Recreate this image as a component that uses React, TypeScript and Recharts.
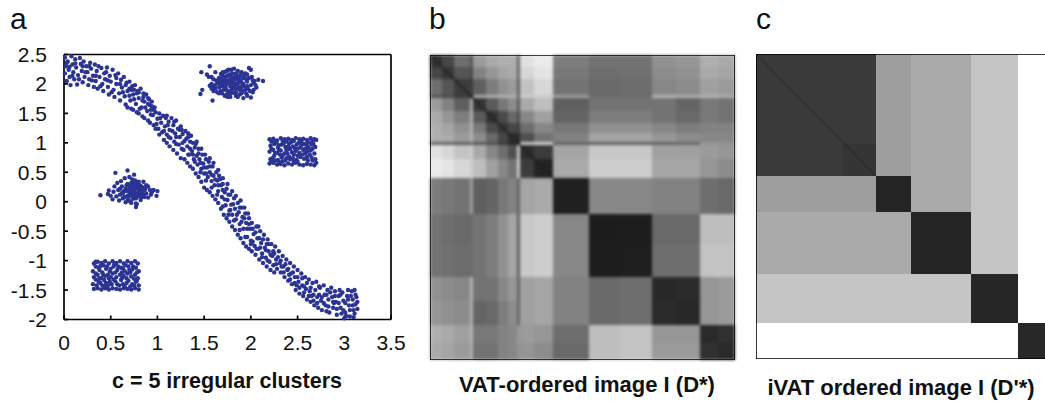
import React from "react";
import { ScatterChart, Scatter, XAxis, YAxis, ReferenceArea, ReferenceLine } from "recharts";

type P = [number, number];
const INK = "#2b3494";
const FONT = "'Liberation Sans', Arial, sans-serif";

const xTicks = [0, 0.5, 1, 1.5, 2, 2.5, 3, 3.5];
const yTicks = [-2, -1.5, -1, -0.5, 0, 0.5, 1, 1.5, 2, 2.5];

const bandPoints: P[] = [
[0.01,2.45],[0.02,2.3],[0.01,2.18],[0.03,2.05],[0.04,2.38],[0.05,2.24],[0.06,2.12],[0.07,1.98],[0.08,2.47],[0.09,2.33],[0.1,2.2],[0.11,2.08],[0.12,2.42],[0.13,2.28],[0.14,1.99],[0.15,2.15],[0.17,2.44],[0.18,2.34],[0.19,2.22],[0.2,2.03],[0.21,2.38],[0.22,2.12],[0.24,2.3],[0.25,2.2],[0.26,1.98],[0.27,2.08],
[0.28,2.36],[0.29,2.26],[0.31,2.14],[0.32,1.95],[0.33,2.33],[0.34,2.05],[0.35,2.22],[0.36,1.92],[0.37,2.3],[0.38,2.12],[0.4,2.27],[0.41,2.0],[0.42,1.88],[0.43,2.18],[0.44,2.08],[0.46,2.28],[0.47,1.95],[0.48,1.82],[0.49,2.14],[0.5,2.04],[0.52,2.24],[0.53,1.9],[0.54,1.78],[0.55,2.15],[0.56,2.0],[0.58,2.18],[0.59,1.84],[0.6,1.72],[0.61,2.07],[0.62,1.94],[0.64,2.12],[0.65,1.79],[0.66,1.65],[0.67,2.02],[0.68,1.88],[0.7,2.04],[0.71,1.72],[0.72,1.58],[0.73,1.96],[0.74,1.82],[0.76,1.98],[0.77,1.66],[0.78,1.52],[0.79,1.88],[0.8,1.76],[0.82,1.92],[0.83,1.6],[0.84,1.45],[0.85,1.84],[0.86,1.7],[0.88,1.82],[0.89,1.54],[0.9,1.38],[0.91,1.74],[0.92,1.64],[0.94,1.7],[0.95,1.47],[0.96,1.3],[0.97,1.6],[0.98,1.52],
[1.0,1.41],[1.01,1.24],[1.02,1.5],[1.04,1.34],[1.05,1.18],[1.06,1.46],[1.08,1.28],[1.09,1.42],[1.1,1.14],[1.12,1.36],[1.13,1.22],[1.14,1.08],[1.15,1.42],[1.17,1.3],[1.18,1.02],[1.19,1.16],[1.2,1.38],[1.22,1.24],[1.23,0.97],[1.24,1.1],[1.25,1.28],[1.27,1.15],[1.28,0.88],[1.29,1.03],[1.3,1.2],[1.32,0.94],[1.33,1.1],[1.34,0.8],[1.35,1.02],[1.37,0.86],[1.38,1.0],[1.39,0.72],[1.4,0.92],[1.42,0.78],[1.43,0.63],[1.44,0.9],[1.45,0.72],[1.47,0.56],[1.48,0.8],[1.49,0.65],[1.5,0.48],[1.52,0.72],[1.53,0.58],[1.54,0.42],[1.55,0.68],[1.56,0.5],[1.58,0.35],[1.59,0.6],[1.6,0.44],[1.61,0.28],[1.63,0.5],[1.64,0.36],[1.65,0.18],[1.66,0.44],[1.68,0.28],[1.69,0.08],[1.7,0.3],[1.72,0.16],[1.73,-0.06],[1.74,0.22],[1.75,0.03],[1.77,-0.15],[1.78,0.12],[1.79,-0.05],[1.8,-0.22],[1.82,0.06],[1.83,-0.12],[1.84,-0.3],[1.86,-0.02],[1.87,-0.18],[1.88,-0.38],[1.9,-0.1],[1.91,-0.26],[1.92,-0.46],[1.94,-0.2],[1.95,-0.36],[1.96,-0.6],[1.98,-0.28],[1.99,-0.46],[2.0,-0.66],[2.01,-0.36],[2.03,-0.55],[2.04,-0.75],[2.06,-0.42],[2.07,-0.62],[2.08,-0.8],[2.1,-0.5],[2.11,-0.7],[2.12,-0.88],[2.14,-0.56],[2.15,-0.78],[2.16,-0.95],[2.18,-0.64],[2.19,-0.84],[2.2,-1.02],[2.22,-0.72],[2.23,-0.92],[2.24,-1.08],[2.26,-0.76],[2.27,-0.98],[2.28,-1.14],[2.3,-0.84],[2.31,-1.04],[2.32,-1.2],[2.34,-0.92],[2.35,-1.1],[2.36,-1.28],[2.38,-0.98],[2.39,-1.16],[2.4,-1.34],[2.42,-1.04],[2.43,-1.22],[2.44,-1.4],[2.46,-1.1],[2.47,-1.28],[2.48,-1.5],[2.5,-1.16],[2.51,-1.36],[2.52,-1.56],[2.54,-1.22],[2.55,-1.42],[2.56,-1.6],[2.58,-1.28],[2.59,-1.48],[2.6,-1.66],[2.62,-1.32],[2.63,-1.52],[2.64,-1.7],[2.66,-1.38],[2.67,-1.58],[2.68,-1.76],[2.7,-1.36],[2.71,-1.62],[2.72,-1.8],[2.74,-1.46],[2.75,-1.68],[2.76,-1.84],[2.78,-1.42],[2.79,-1.58],[2.8,-1.76],[2.82,-1.5],[2.83,-1.66],[2.84,-1.88],[2.86,-1.46],[2.87,-1.62],[2.88,-1.8],[2.9,-1.52],[2.91,-1.7],[2.92,-1.92],[2.94,-1.6],[2.95,-1.5],[2.96,-1.8],[2.98,-1.54],[2.99,-1.68],[3.0,-1.98],[3.01,-1.88],[3.03,-1.6],[3.04,-1.5],[3.05,-1.76],[3.06,-1.95],[3.08,-1.52],[3.09,-1.66],[3.1,-1.84],[3.11,-1.5],[3.12,-1.74],[3.13,-1.62],[3.14,-1.82],[3.1,-1.96],[2.97,-1.9],[2.89,-1.72],[2.81,-1.86],[2.73,-1.58],[2.65,-1.6],[2.57,-1.44],[2.49,-1.42],[2.41,-1.24],[2.33,-1.1],[2.25,-0.88],[2.17,-0.72],[2.09,-0.62],[2.02,-0.46]
];

const bandFill: P[] = [
[0.03,2.36],[0.06,2.29],[0.09,2.14],[0.12,2.35],[0.16,2.08],[0.2,2.3],[0.23,2.2],[0.27,2.3],[0.3,2.06],[0.34,2.14],[0.39,1.96],[0.45,2.2],[0.47,2.06],[0.51,1.86],[0.56,2.1],[0.6,2.0],[0.63,1.86],[0.66,1.98],[0.7,1.8],[0.72,1.9],[0.75,1.74],[0.78,1.84],[0.81,1.58],[0.84,1.72],[0.87,1.6],[0.9,1.66],[0.93,1.48],[0.96,1.56],[0.99,1.32],[1.03,1.42],[1.07,1.2],[1.11,1.3],[1.16,1.2],[1.2,1.1],[1.24,1.22],[1.27,1.0],[1.31,1.07],[1.35,0.9],[1.38,0.8],[1.41,0.98],[1.44,0.82],[1.46,0.66],[1.5,0.58],[1.52,0.48],[1.56,0.6],[1.58,0.46],[1.62,0.38],[1.65,0.28],[1.67,0.38],[1.7,0.2],[1.72,0.04],[1.76,0.12],[1.78,-0.14],[1.81,-0.04],[1.85,-0.22],[1.88,-0.1],[1.9,-0.34],[1.93,-0.28],[1.96,-0.46],[1.98,-0.38],[2.02,-0.68],[2.05,-0.52],[2.08,-0.42],[2.1,-0.78],[2.13,-0.64],[2.16,-0.82],[2.19,-0.72],[2.21,-0.9],[2.24,-0.84],[2.27,-1.06],[2.29,-0.94],[2.32,-1.0],[2.35,-1.2],[2.37,-1.06],[2.4,-1.14],[2.42,-1.32],[2.45,-1.2],[2.47,-1.38],[2.5,-1.28],[2.52,-1.46],[2.55,-1.3],[2.57,-1.54],[2.6,-1.38],[2.62,-1.6],[2.64,-1.46],[2.67,-1.68],[2.69,-1.5],[2.71,-1.72],[2.73,-1.44],[2.76,-1.62],[2.78,-1.72],[2.81,-1.58],[2.83,-1.78],[2.85,-1.54],[2.88,-1.7],[2.9,-1.6],[2.92,-1.82],[2.94,-1.72],[2.96,-1.58],[2.99,-1.84],[3.01,-1.72],[3.02,-1.94],[3.04,-1.66],[3.06,-1.84],[3.07,-1.6],[3.09,-1.76],[3.11,-1.9],[3.12,-1.58],[3.14,-1.7]
];

const bandLowerEdge: P[] = [
[0.98,1.24],[1.02,1.14],[1.07,1.05],[1.1,1.0],[1.13,0.94],[1.17,0.88],[1.21,0.82],[1.25,0.74],[1.29,0.72],[1.32,0.66],[1.35,0.6],[1.38,0.56],[1.41,0.48],[1.44,0.42],[1.47,0.34],[1.5,0.24],[1.53,0.2],[1.56,0.16],[1.59,0.1],[1.62,0.04],[1.65,-0.02],[1.68,-0.12],[1.71,-0.22],[1.74,-0.28],[1.77,-0.34],[1.8,-0.42],[1.83,-0.48],[1.86,-0.56],[1.89,-0.62],[1.92,-0.7],[1.95,-0.76],[1.98,-0.8],[2.01,-0.84],[2.05,-0.9],[2.09,-0.98],[2.13,-1.04],[2.17,-1.1],[2.21,-1.16],[2.25,-1.2],
[1.12,1.1],[1.2,0.98],[1.26,0.9],[1.33,0.8],[1.4,0.68],[1.46,0.5],[1.52,0.36],[1.58,0.24],[1.64,0.12],[1.7,-0.08],[1.76,-0.22],[1.82,-0.32],[1.88,-0.48],[1.94,-0.6],[2.0,-0.72],[2.06,-0.8],[2.12,-0.94],[2.18,-1.0],
[1.1,1.46],[1.18,1.36],[1.26,1.22],[1.33,1.16],[1.36,1.12],[1.42,1.02],[1.47,0.9],[1.51,0.8],[1.56,0.74],[1.6,0.66],[1.65,0.54],[1.7,0.4],[1.75,0.3],[1.8,0.18],[1.84,0.1],[1.89,0.02],[1.93,-0.1],[1.97,-0.2],
[0.7,1.92],[0.75,1.9],[0.8,1.86],[0.85,1.78],[0.9,1.76],[0.94,1.62],[0.93,1.56],[0.68,1.6],[0.74,1.56],[0.8,1.5],[0.86,1.42],[0.92,1.34]
];

const topBlobPoints: P[] = [
[1.46,1.83],[1.48,1.9],[1.47,2.2],[1.56,2.3],[1.59,1.72],[1.53,2.16],[1.55,2.12],[1.58,2.12],[1.6,2.08],[1.62,2.2],[1.98,2.27],[2.0,2.24],[2.13,2.05],[2.08,2.07],[2.04,2.05],[2.0,1.77],[1.92,1.76],[1.84,1.8],[1.78,1.78],[1.72,1.8],[1.66,1.84],[1.56,1.97],[1.58,1.92],[1.6,1.88],[1.62,1.98],[1.64,2.02],[1.66,1.94],[1.66,2.1],[1.68,1.88],[1.68,2.02],[1.7,2.14],[1.7,1.96],[1.72,2.2],[1.72,2.06],[1.74,1.9],[1.74,2.0],[1.75,2.14],[1.76,2.24],[1.78,1.84],[1.78,1.96],[1.78,2.08],[1.8,2.18],[1.8,2.02],[1.82,1.92],[1.82,2.26],[1.83,2.12],[1.84,1.86],[1.84,2.0],[1.86,2.22],[1.86,2.08],[1.87,1.94],[1.88,1.82],[1.89,2.16],[1.9,2.02],[1.91,1.88],[1.92,2.1],[1.93,1.96],[1.94,2.18],[1.95,1.84],[1.96,2.04],[1.97,1.92],[1.98,2.1],[2.0,1.98],[2.02,2.06],[2.03,1.9],[2.05,1.98],[1.9,1.95],[1.74,1.82],[1.68,2.17],[1.81,2.1],
[1.62,1.92],[1.64,1.86],[1.65,2.04],[1.67,1.98],[1.69,2.08],[1.69,1.84],[1.71,1.9],[1.71,2.02],[1.73,2.12],[1.73,1.95],[1.75,2.06],[1.76,1.87],[1.77,2.16],[1.77,2.02],[1.79,1.9],[1.79,2.12],[1.8,1.96],[1.81,1.85],[1.82,2.06],[1.83,1.98],[1.85,1.92],[1.85,2.14],[1.86,2.0],[1.88,2.12],[1.88,1.9],[1.89,2.06],[1.9,1.84],[1.92,2.0],[1.93,2.14],[1.94,1.9],[1.95,2.08],[1.96,1.96],[1.99,1.88],[2.01,2.12],[1.87,2.04],[1.84,2.18],
[1.6,1.96],[1.58,2.0],[1.63,2.06],[1.7,2.2],[1.74,2.22],[1.79,2.24],[1.9,2.2],[1.96,2.16],[2.03,2.02],[2.06,1.94],[2.02,1.86],[1.96,1.8],[1.86,1.78],[1.75,1.78]
];

const rightRectPoints: P[] = [
[2.2,1.06],[2.21,0.95],[2.2,0.85],[2.21,0.72],[2.2,0.65],[2.24,1.07],[2.25,0.98],[2.24,0.88],[2.25,0.78],[2.24,0.66],[2.28,1.04],[2.29,0.92],[2.28,0.83],[2.29,0.71],[2.28,0.63],[2.32,1.08],[2.33,0.97],[2.32,0.87],[2.33,0.75],[2.32,0.64],[2.36,1.06],[2.37,0.93],[2.36,0.82],[2.37,0.7],[2.36,0.62],[2.4,1.07],[2.41,0.99],[2.4,0.89],[2.41,0.77],[2.4,0.65],[2.44,1.05],[2.45,0.94],[2.44,0.84],[2.45,0.74],[2.44,0.63],[2.48,1.08],[2.49,0.97],[2.48,0.86],[2.49,0.71],[2.48,0.66],[2.52,1.06],[2.53,0.92],[2.52,0.83],[2.53,0.76],[2.52,0.63],[2.56,1.07],[2.57,0.98],[2.56,0.88],[2.57,0.73],[2.56,0.62],[2.6,1.05],[2.61,0.94],[2.6,0.85],[2.61,0.7],[2.6,0.64],[2.64,1.08],[2.65,0.97],[2.64,0.87],[2.65,0.75],[2.64,0.63],[2.68,1.06],[2.69,0.93],[2.68,0.82],[2.69,0.72],[2.68,0.62],[2.7,1.05],[2.7,0.66],[2.22,0.9],[2.27,1.0],[2.31,0.8],[2.35,0.99],[2.39,0.82],[2.43,1.01],[2.47,0.91],[2.51,1.0],[2.55,0.8],[2.59,0.98],[2.63,0.8],[2.67,0.98],
[2.23,0.74],[2.26,0.83],[2.3,0.96],[2.34,0.79],[2.38,1.02],[2.42,0.72],[2.46,1.03],[2.5,0.78],[2.54,0.96],[2.58,0.82],[2.62,1.01],[2.66,0.9],[2.3,0.68],[2.38,0.74],[2.46,0.68],[2.6,0.76],
[2.22,1.02],[2.26,1.03],[2.34,1.03],[2.42,0.9],[2.46,0.8],[2.5,0.9],[2.54,1.02],[2.58,0.9],[2.62,0.9],[2.66,1.03],[2.22,0.69],[2.26,0.7],[2.34,0.69],[2.4,0.94],[2.5,0.68],[2.66,0.7],[2.38,0.88],[2.3,0.88]
];

const leftBlobPoints: P[] = [
[0.39,0.11],[0.55,0.49],[0.68,0.53],[1.0,0.18],[0.99,0.1],[0.92,0.2],[0.77,-0.09],[0.47,0.13],[0.48,0.19],[0.5,0.1],[0.52,0.04],[0.53,0.17],[0.54,0.26],[0.56,0.09],[0.57,0.32],[0.58,0.2],[0.59,0.02],[0.6,0.12],[0.61,0.35],[0.62,0.26],[0.63,0.06],[0.64,0.18],[0.65,0.4],[0.66,-0.01],[0.67,0.28],[0.68,0.1],[0.69,0.2],[0.7,0.42],[0.71,0.0],[0.72,0.32],[0.72,0.14],[0.74,0.24],[0.74,0.05],[0.75,0.46],[0.76,0.36],[0.76,0.16],[0.77,-0.03],[0.78,0.28],[0.78,0.08],[0.8,0.2],[0.8,0.34],[0.82,0.12],[0.82,0.03],[0.83,0.26],[0.84,0.17],[0.85,0.34],[0.86,0.08],[0.87,0.22],[0.88,0.28],[0.88,0.14],[0.9,0.07],[0.9,0.26],[0.93,0.12],[0.94,0.16],[0.96,0.2],[0.82,0.22],[0.7,0.16],[0.74,0.18],[0.66,0.22],[0.62,0.15],
[0.6,0.22],[0.63,0.14],[0.65,0.08],[0.67,0.18],[0.68,0.3],[0.69,0.04],[0.7,0.26],[0.71,0.1],[0.72,0.2],[0.73,0.38],[0.73,0.28],[0.75,0.1],[0.75,0.3],[0.76,0.22],[0.77,0.06],[0.78,0.14],[0.79,0.24],[0.79,0.32],[0.8,0.1],[0.81,0.16],[0.81,0.28],[0.83,0.08],[0.84,0.24],[0.85,0.12],[0.86,0.2],[0.72,-0.02],[0.78,-0.04],[0.68,0.02]
];

const lowerRectPoints: P[] = [
[0.32,-1.05],[0.31,-1.18],[0.32,-1.28],[0.31,-1.4],[0.32,-1.48],[0.36,-1.02],[0.37,-1.12],[0.36,-1.24],[0.37,-1.36],[0.36,-1.47],[0.4,-1.04],[0.41,-1.2],[0.4,-1.3],[0.41,-1.42],[0.4,-1.49],[0.44,-1.01],[0.45,-1.14],[0.44,-1.26],[0.45,-1.38],[0.44,-1.47],[0.48,-1.05],[0.49,-1.18],[0.48,-1.3],[0.49,-1.36],[0.48,-1.49],[0.52,-1.01],[0.53,-1.1],[0.52,-1.22],[0.53,-1.32],[0.52,-1.47],[0.56,-1.04],[0.57,-1.16],[0.56,-1.28],[0.57,-1.4],[0.56,-1.48],[0.6,-1.01],[0.61,-1.12],[0.6,-1.24],[0.61,-1.33],[0.6,-1.49],[0.64,-1.05],[0.65,-1.18],[0.64,-1.26],[0.65,-1.44],[0.64,-1.47],[0.68,-1.01],[0.69,-1.1],[0.68,-1.22],[0.69,-1.34],[0.68,-1.48],[0.72,-1.04],[0.73,-1.15],[0.72,-1.27],[0.73,-1.4],[0.72,-1.49],[0.76,-1.01],[0.77,-1.12],[0.76,-1.24],[0.77,-1.36],[0.76,-1.47],[0.79,-1.05],[0.8,-1.18],[0.79,-1.3],[0.8,-1.42],[0.8,-1.49],[0.34,-1.32],[0.39,-1.09],[0.43,-1.33],[0.47,-1.24],[0.51,-1.4],[0.55,-1.2],[0.63,-1.13],[0.67,-1.3],[0.71,-1.2],[0.75,-1.31],
[0.34,-1.1],[0.34,-1.22],[0.35,-1.42],[0.38,-1.16],[0.38,-1.3],[0.39,-1.38],[0.42,-1.08],[0.42,-1.24],[0.43,-1.44],[0.46,-1.1],[0.47,-1.42],[0.5,-1.14],[0.5,-1.28],[0.54,-1.06],[0.55,-1.35],[0.58,-1.1],[0.59,-1.42],[0.62,-1.2],[0.63,-1.4],[0.66,-1.08],[0.67,-1.38],[0.7,-1.16],[0.71,-1.44],[0.74,-1.1],[0.75,-1.42],[0.78,-1.2],[0.78,-1.34],[0.34,-1.02],[0.46,-1.46],[0.62,-1.3]
];

// Grey levels of panel b, read by eye; edges are in image pixels, upper triangle row by row.
const vatEdges = [0,12,24,40,43,56,68,78,87,90,104,123,159,189,222,246,270,288,305];
const vatRows: number[][] = [
[50,70,110,85,155,170,175,175,100,225,235,125,115,115,145,150,175,170],
[55,85,75,130,150,165,170,100,215,228,120,110,112,140,145,170,165],
[60,60,95,125,145,155,95,195,215,115,105,108,135,140,160,155],
[30,175,178,178,178,105,205,205,160,108,108,180,175,180,175],
[55,90,120,140,90,170,190,95,115,115,115,100,120,115],
[50,75,105,80,135,160,100,125,125,115,105,120,115],
[55,70,60,110,135,120,145,145,135,125,130,130],
[45,40,80,115,130,165,165,150,140,135,135],
[30,205,210,100,95,95,100,105,150,145],
[45,60,165,200,200,160,160,155,150],
[35,170,205,205,165,165,150,140],
[32,135,135,130,130,110,105],
[28,29,105,105,190,190],
[30,110,110,195,195],
[40,42,150,155],
[40,150,155],
[42,48],
[42],
];

// Panel c
const ivatXEdges = [0,87,120,155,215,262,305];
const ivatYEdges = [0,90,122,158,220,269,305];
const ivatGrey: number[][] = [
[58,58,158,170,197,255],
[57,52,158,170,197,255],
[158,158,36,170,197,255],
[170,170,170,36,197,255],
[197,197,197,197,38,255],
[255,255,255,255,255,40],
];

const grey = (v: number) => `rgb(${v},${v},${v + 1 > 255 ? 255 : v + 1})`;
const anchor = [{ x: 0, y: 0 }];

function Dot(props: any) {
  return <circle cx={props.cx} cy={props.cy} r={2.2} fill={INK} />;
}
function NoDot() {
  return <g />;
}

const tickStyle = { fontFamily: FONT, fontSize: 21, fill: "#111" };
const toObj = (a: P[]) => a.map(([x, y]) => ({ x, y }));

function ScatterPanel() {
  return (
    <ScatterChart width={420} height={403} margin={{ top: 53.5, left: 14, right: 28, bottom: 53.5 }}>
      <XAxis type="number" dataKey="x" xAxisId="b" orientation="bottom" domain={[0, 3.5]} ticks={xTicks} height={30}
        stroke="#000" strokeWidth={1.7} tickSize={-4} tickMargin={20} tick={tickStyle} interval={0} />
      <XAxis type="number" dataKey="x" xAxisId="t" orientation="top" domain={[0, 3.5]} ticks={xTicks} height={1}
        stroke="#000" strokeWidth={1.7} tickSize={-4} tick={false} interval={0} />
      <YAxis type="number" dataKey="y" yAxisId="l" orientation="left" domain={[-2, 2.5]} ticks={yTicks} width={50}
        stroke="#000" strokeWidth={1.7} tickSize={-4} tickMargin={21} tick={tickStyle} interval={0} />
      <YAxis type="number" dataKey="y" yAxisId="r" orientation="right" domain={[-2, 2.5]} ticks={yTicks} width={1}
        stroke="#000" strokeWidth={1.7} tickSize={-4} tick={false} interval={0} />
      {[bandPoints, bandFill, bandLowerEdge, topBlobPoints, rightRectPoints, leftBlobPoints, lowerRectPoints].map((pts, i) => (
        <Scatter key={i} data={toObj(pts)} xAxisId="b" yAxisId="l" shape={Dot} isAnimationActive={false} />
      ))}
    </ScatterChart>
  );
}

function HeatPanel({ xEdges, yEdges, cell, diagonal }: { xEdges: number[]; yEdges: number[]; cell: (r: number, c: number) => number; diagonal: { end: P; w: number; o: number } }) {
  const areas: React.ReactNode[] = [];
  for (let r = 0; r < yEdges.length - 1; r++) {
    for (let c = 0; c < xEdges.length - 1; c++) {
      areas.push(
        <ReferenceArea key={`${r}-${c}`} x1={xEdges[c]} x2={xEdges[c + 1]} y1={yEdges[r]} y2={yEdges[r + 1]}
          fill={grey(cell(r, c))} fillOpacity={1} stroke="none" ifOverflow="visible" />
      );
    }
  }
  return (
    <ScatterChart width={305} height={305} margin={{ top: 0, left: 0, right: 0, bottom: 0 }}>
      <XAxis type="number" dataKey="x" domain={[0, 305]} hide />
      <YAxis type="number" dataKey="y" domain={[0, 305]} reversed hide />
      <Scatter data={anchor} shape={NoDot} isAnimationActive={false} />
      {areas}
      <ReferenceLine segment={[{ x: 0, y: 0 }, { x: diagonal.end[0], y: diagonal.end[1] }]} stroke="#1c1c1c" strokeWidth={diagonal.w} strokeOpacity={diagonal.o} ifOverflow="visible" />
    </ScatterChart>
  );
}

function FramePanel() {
  return (
    <ScatterChart width={305} height={305} margin={{ top: 0, left: 0, right: 0, bottom: 0 }}>
      <XAxis type="number" dataKey="x" domain={[0, 305]} hide />
      <YAxis type="number" dataKey="y" domain={[0, 305]} reversed hide />
      <Scatter data={anchor} shape={NoDot} isAnimationActive={false} />
      <ReferenceArea x1={0} x2={305} y1={0} y2={305} fill="none" stroke="#000" strokeWidth={1.6} ifOverflow="visible" />
    </ScatterChart>
  );
}

const abs = (left: number, top: number): React.CSSProperties => ({ position: "absolute", left, top });

function Caption({ text, cx, cy, size }: { text: string; cx: number; cy: number; size: number }) {
  return (
    <div style={{ position: "absolute", left: cx - 200, width: 400, top: cy - 15, height: 30, lineHeight: "30px", textAlign: "center", fontFamily: FONT, fontWeight: 700, fontSize: size, color: "#111", whiteSpace: "nowrap" }}>{text}</div>
  );
}
function Letter({ text, left }: { text: string; left: number }) {
  return (
    <div style={{ position: "absolute", left, top: 2, lineHeight: "34px", fontFamily: FONT, fontSize: 30, color: "#111" }}>{text}</div>
  );
}

const vatCell = (r: number, c: number) => (c >= r ? vatRows[r][c - r] : vatRows[c][r - c]);
const ivatCell = (r: number, c: number) => ivatGrey[r][c];

export default function App() {
  return (
    <div style={{ position: "fixed", left: 0, top: 0, width: 1045, height: 403, overflow: "hidden", background: "#fff" }}>
      <div style={abs(0, 0)}><ScatterPanel /></div>
      <div style={{ ...abs(430, 54.5), filter: "blur(1.6px)" }}>
        <HeatPanel xEdges={vatEdges} yEdges={vatEdges} cell={vatCell} diagonal={{ end: [123, 123], w: 3, o: 0.5 }} />
      </div>
      <div style={abs(430, 54.5)}><FramePanel /></div>
      <div style={{ ...abs(756, 54), filter: "blur(0.6px)" }}>
        <HeatPanel xEdges={ivatXEdges} yEdges={ivatYEdges} cell={ivatCell} diagonal={{ end: [120, 122], w: 1.2, o: 0.35 }} />
      </div>
      <div style={abs(756, 54)}><FramePanel /></div>
      <Letter text="a" left={10} />
      <Letter text="b" left={429} />
      <Letter text="c" left={756} />
      <Caption text="c = 5 irregular clusters" cx={227} cy={381} size={21.5} />
      <Caption text="VAT-ordered image I (D*)" cx={587} cy={385} size={22} />
      <Caption text="iVAT ordered image I (D'*)" cx={901} cy={388} size={22} />
    </div>
  );
}
